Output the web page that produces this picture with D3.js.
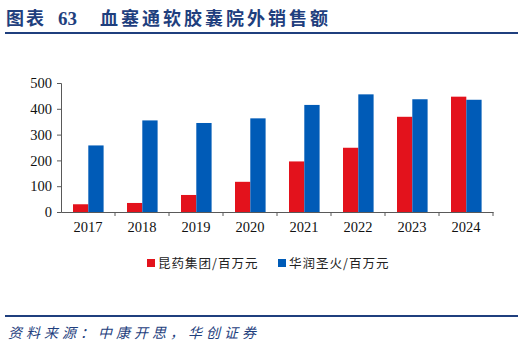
<!DOCTYPE html>
<html>
<head>
<meta charset="utf-8">
<script src="https://cdn.jsdelivr.net/npm/d3@7"></script>
<style>
  body { margin: 0; background: #fff; }
</style>
</head>
<body>
<div id="holder"></div>
<script>
const w = 524;
const h = 351;

// DATA
const years = ["2017", "2018", "2019", "2020", "2021", "2022", "2023", "2024"];
const kunyao = [30, 35, 66, 117, 196, 249, 369, 447];
const huarun = [258, 355, 345, 363, 415, 456, 437, 435];
const seriesNames = ["昆药集团/百万元", "华润圣火/百万元"];
const yTicks = [0, 100, 200, 300, 400, 500];

const colors = ["#E3121C", "#005BB7"];
const navy = "#1F3F7E";

const svg = d3.select("#holder")
    .append("svg")
    .attr("width", w)
    .attr("height", h)

// TITLE
svg.append("text")
    .attr("x", 6)
    .attr("y", 25)
    .attr("fill", navy)
    .attr("font-family", "'Noto Sans CJK SC', sans-serif")
    .attr("font-weight", "bold")
    .attr("font-size", 18)
    .attr("letter-spacing", 2)
    .text("图表")
svg.append("text")
    .attr("x", 58)
    .attr("y", 25)
    .attr("fill", navy)
    .attr("font-family", "'Liberation Serif', serif")
    .attr("font-weight", "bold")
    .attr("font-size", 19)
    .text("63")
svg.append("text")
    .attr("x", 100)
    .attr("y", 25)
    .attr("fill", navy)
    .attr("font-family", "'Noto Sans CJK SC', sans-serif")
    .attr("font-weight", "bold")
    .attr("font-size", 18)
    .attr("letter-spacing", 3)
    .text("血塞通软胶囊院外销售额")

svg.append("line")
    .attr("x1", 5).attr("x2", 518)
    .attr("y1", 33).attr("y2", 33)
    .attr("stroke", navy)
    .attr("stroke-width", 2)

// SCALES
const xScale = d3.scaleBand()
    .domain(years)
    .range([61, 493])

const yScale = d3.scaleLinear()
    .domain([0, 500])
    .range([212, 83])

const inner = d3.scaleBand()
    .domain([0, 1])
    .range([12, 42.6])

// BARS
const rows = years.map((y, i) => ({ year: y, vals: [kunyao[i], huarun[i]] }))

const groups = svg.selectAll("g.year")
    .data(rows)
    .enter()
    .append("g")
    .attr("class", "year")
    .attr("transform", d => "translate(" + xScale(d.year) + ",0)")

groups.selectAll("rect")
    .data(d => d.vals.map((v, k) => ({ k: k, v: v })))
    .enter()
    .append("rect")
    .attr("x", d => inner(d.k))
    .attr("y", d => yScale(d.v))
    .attr("width", inner.bandwidth())
    .attr("height", d => yScale(0) - yScale(d.v))
    .attr("fill", d => colors[d.k])

// Y AXIS
const yAxis = d3.axisLeft(yScale)
    .tickValues(yTicks)
    .tickSize(4)
    .tickPadding(5)

const gy = svg.append("g")
    .attr("transform", "translate(61,0)")
    .call(yAxis)

// X AXIS
const xAxis = d3.axisBottom(xScale)
    .tickSize(0)
    .tickPadding(10)

const gx = svg.append("g")
    .attr("transform", "translate(0,212)")
    .call(xAxis)

// ticks at band boundaries
gx.selectAll("line.bound")
    .data(years.slice(1).concat(["end"]))
    .enter()
    .append("line")
    .attr("class", "bound")
    .attr("x1", d => d === "end" ? xScale.range()[1] : xScale(d))
    .attr("x2", d => d === "end" ? xScale.range()[1] : xScale(d))
    .attr("y1", 0)
    .attr("y2", 4)
    .attr("stroke", "#595959")

for (const g of [gx, gy]) {
    g.select(".domain").attr("stroke", "#595959")
    g.selectAll(".tick line").attr("stroke", "#595959")
    g.selectAll("text")
        .attr("font-family", "'Liberation Serif', serif")
        .attr("font-size", 14.5)
        .attr("fill", "#111")
}

// LEGEND
const legendX = [142, 273]
seriesNames.forEach((name, i) => {
    svg.append("rect")
        .attr("x", legendX[i] + 5)
        .attr("y", 259)
        .attr("width", 8)
        .attr("height", 8)
        .attr("fill", colors[i])
    svg.append("text")
        .attr("x", legendX[i] + 16)
        .attr("y", 268)
        .attr("font-family", "'Noto Sans CJK SC', sans-serif")
        .attr("font-size", 12.5)
        .attr("letter-spacing", 1)
        .attr("fill", "#222")
        .text(name)
})

// FOOTER
svg.append("line")
    .attr("x1", 5).attr("x2", 518)
    .attr("y1", 316).attr("y2", 316)
    .attr("stroke", navy)
    .attr("stroke-width", 2)

svg.append("text")
    .attr("x", 8)
    .attr("y", 338)
    .attr("fill", navy)
    .attr("font-family", "'Noto Sans CJK SC', sans-serif")
    .attr("font-style", "italic")
    .attr("font-size", 14)
    .attr("letter-spacing", 4)
    .text("资料来源：中康开思，华创证券")
</script>
</body>
</html>
